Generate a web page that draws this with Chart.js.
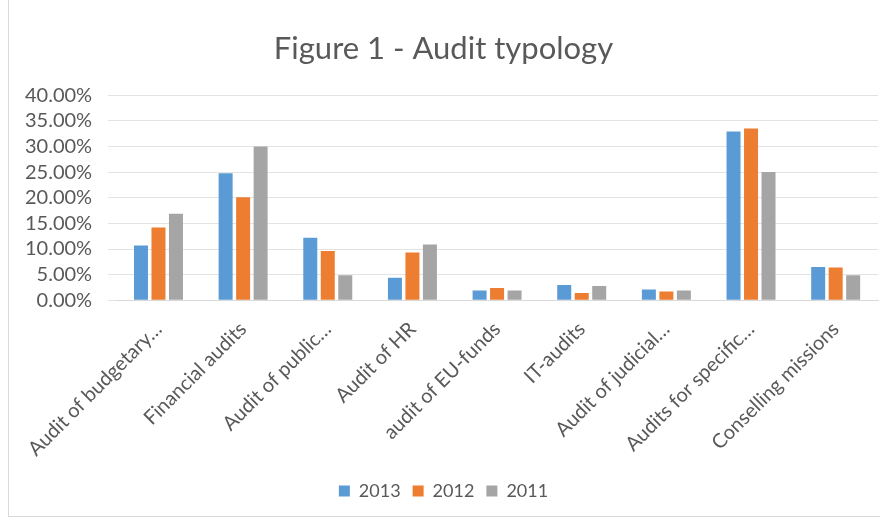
<!DOCTYPE html>
<html>
<head>
<meta charset="utf-8">
<script src="https://cdn.jsdelivr.net/npm/chart.js@4/dist/chart.umd.min.js"></script>
<style>
  body { margin: 0; background: #fff; }
  #wrap { position: absolute; left: 8px; top: 0; width: 871px; height: 516px; border-left: 1px solid #d9d9d9; border-bottom: 1px solid #d9d9d9; }
</style>
</head>
<body>
<div id="wrap"><canvas id="chart"></canvas></div>
<script>
const categories = ['Audit of budgetary…', 'Financial audits', 'Audit of public…', 'Audit of HR',
    'audit of EU-funds', 'IT-audits', 'Audit of judicial…', 'Audits for specific…', 'Conselling missions']
const years = ['2013', '2012', '2011']
const values2013 = [10.7, 24.8, 12.2, 4.4, 1.9, 3.0, 2.1, 32.9, 6.5]
const values2012 = [14.2, 20.1, 9.6, 9.3, 2.4, 1.4, 1.7, 33.5, 6.4]
const values2011 = [16.9, 30.0, 4.9, 10.9, 1.9, 2.8, 1.9, 25.0, 4.9]
const colors = ['#5B9BD5', '#ED7D31', '#A5A5A5']

const textGray = '#595959'

/** one dataset per year */
const datasets = [values2013, values2012, values2011].map((vals, i) => ({
    label: years[i],
    data: vals,
    backgroundColor: colors[i],
    barPercentage: 0.8,
    categoryPercentage: 0.62
}))

new Chart(document.getElementById('chart'), {
    type: 'bar',
    data: { labels: categories, datasets: datasets },
    options: {
        responsive: true,
        maintainAspectRatio: false,
        animation: false,
        layout: { padding: { left: 0, right: 2, top: 30, bottom: 6 } },
        plugins: {
            title: {
                display: true,
                text: 'Figure 1 - Audit typology',
                color: textGray,
                font: { family: 'Lato', size: 31, weight: 'normal' },
                padding: { top: 0, bottom: 28 }
            },
            legend: {
                position: 'bottom',
                labels: {
                    color: textGray,
                    font: { family: 'Lato', size: 18 },
                    boxWidth: 11,
                    boxHeight: 11,
                    padding: 12
                }
            },
            tooltip: { enabled: false }
        },
        scales: {
            x: {
                grid: { display: false },
                border: { color: '#d9d9d9' },
                ticks: {
                    color: textGray,
                    font: { family: 'Lato', size: 20 },
                    maxRotation: 45,
                    minRotation: 45,
                    padding: 9,
                    autoSkip: false
                }
            },
            y: {
                min: 0,
                max: 40,
                grid: { color: '#e3e3e3' },
                border: { display: false },
                ticks: {
                    stepSize: 5,
                    autoSkip: false,
                    color: textGray,
                    font: { family: 'Lato', size: 20 },
                    padding: 16,
                    callback: v => v.toFixed(2) + '%'
                }
            }
        }
    }
})
</script>
</body>
</html>
